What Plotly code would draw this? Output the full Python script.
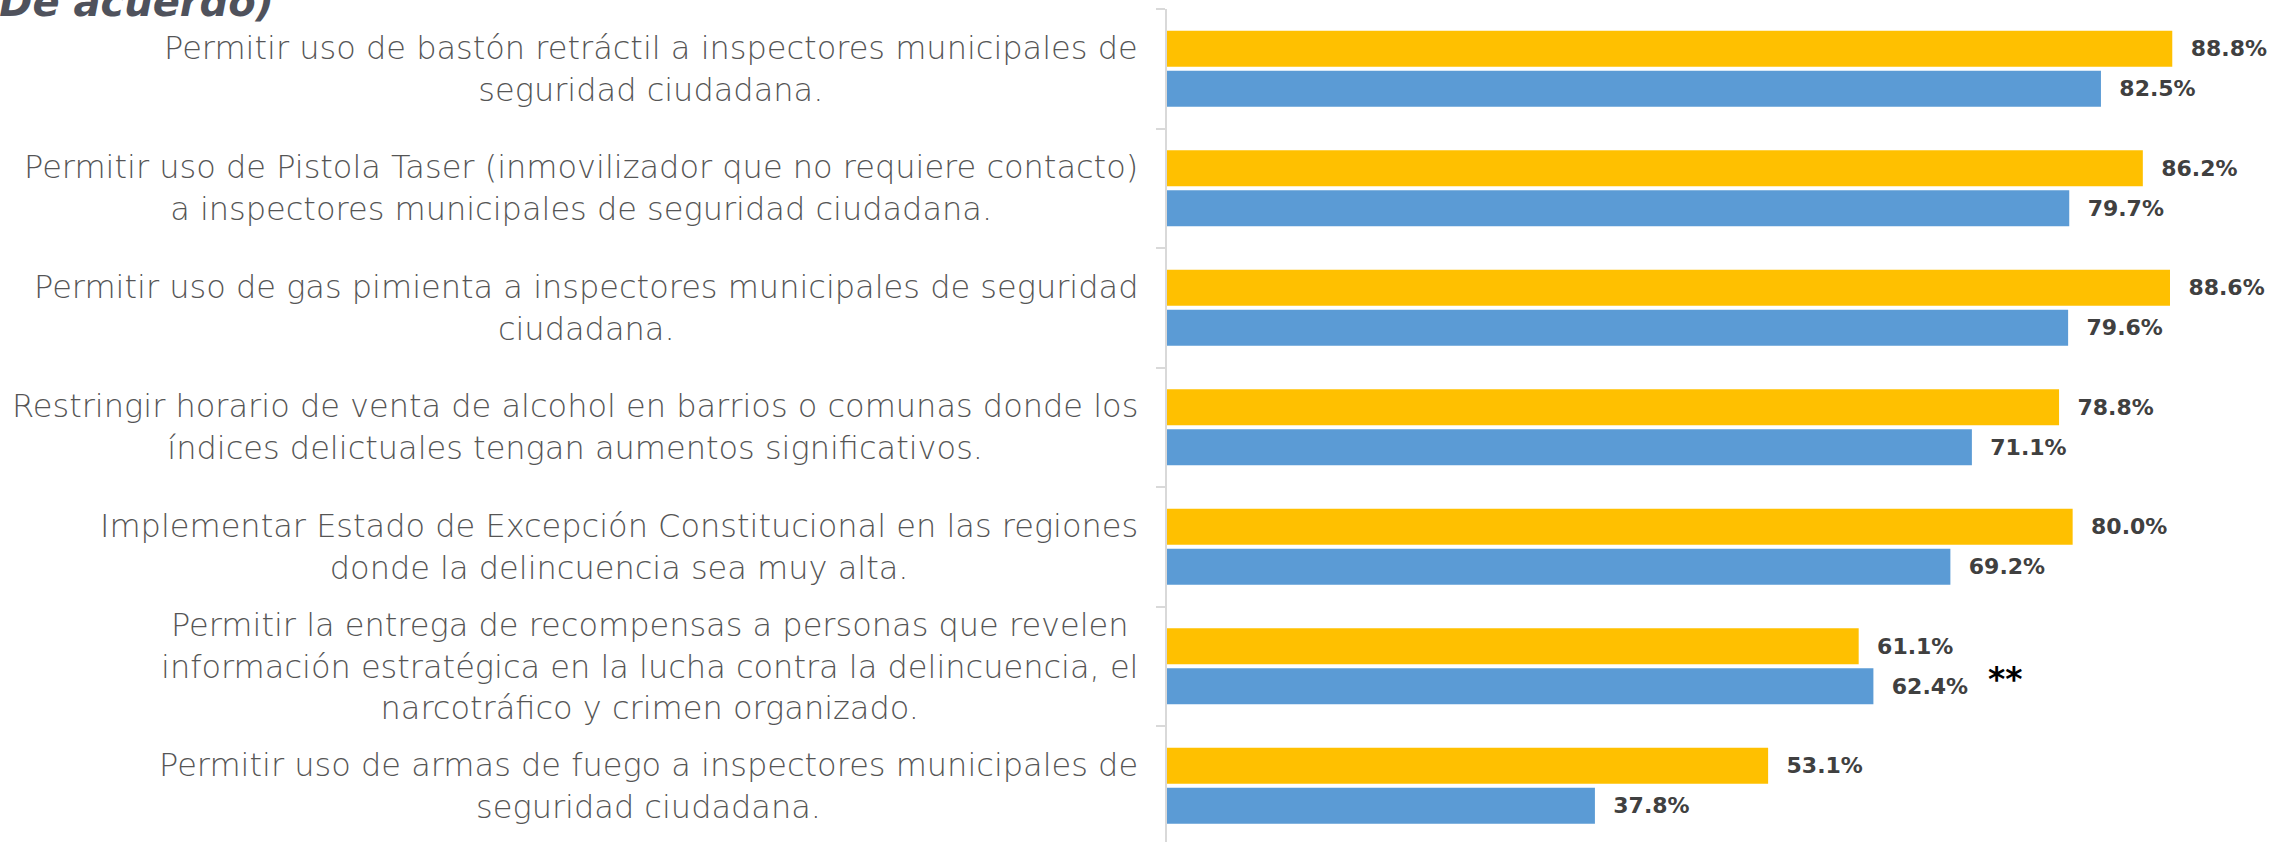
import plotly.graph_objects as go

categories = [
    "Permitir uso de bastón retráctil a inspectores municipales de<br>seguridad ciudadana.",
    "Permitir uso de Pistola Taser (inmovilizador que no requiere contacto)<br>a inspectores municipales de seguridad ciudadana.",
    "Permitir uso de gas pimienta a inspectores municipales de seguridad<br>ciudadana.",
    "Restringir horario de venta de alcohol en barrios o comunas donde los<br>índices delictuales tengan aumentos significativos.",
    "Implementar Estado de Excepción Constitucional en las regiones<br>donde la delincuencia sea muy alta.",
    "Permitir la entrega de recompensas a personas que revelen<br>información estratégica en la lucha contra la delincuencia, el<br>narcotráfico y crimen organizado.",
    "Permitir uso de armas de fuego a inspectores municipales de<br>seguridad ciudadana.",
]
serie_amarilla = [88.8, 86.2, 88.6, 78.8, 80.0, 61.1, 53.1]
serie_azul = [82.5, 79.7, 79.6, 71.1, 69.2, 62.4, 37.8]
series_names = ["Serie 1", "Serie 2"]
title_text = "(De acuerdo)"
note_category = categories[5]
note_text = "**"
note_x = 74.1

W, H = 2290, 842
ML = 1167

fig = go.Figure()
label_font = dict(family="DejaVu Sans", size=22, color="#404040", weight=700)
for name, vals, col in [(series_names[0], serie_amarilla, "#FFC000"),
                        (series_names[1], serie_azul, "#5B9BD5")]:
    fig.add_trace(go.Bar(
        y=categories, x=vals, name=name, orientation="h",
        marker=dict(color=col, line=dict(width=0)),
        text=[f"\u2002\u2009{v:.1f}%" for v in vals],
        textposition="outside", textfont=label_font,
        constraintext="none", cliponaxis=False,
        showlegend=False, hoverinfo="skip",
    ))

annotations = []
for c in categories:
    annotations.append(dict(
        xref="paper", x=0, yref="y", y=c, text=c, showarrow=False,
        xanchor="right", yanchor="middle", align="center", xshift=-27,
        font=dict(family="DejaVu Sans", size=32, color="#555555", weight=300),
    ))
annotations.append(dict(
    xref="x", x=note_x, yref="y", y=note_category, text=note_text,
    showarrow=False, xanchor="center", yanchor="middle", yshift=-13,
    font=dict(family="DejaVu Sans", size=33, color="#000000", weight=700),
))
annotations.append(dict(
    xref="paper", x=0, yref="paper", y=1, text=title_text, showarrow=False,
    xanchor="left", yanchor="middle", xshift=-ML - 21, yshift=7,
    font=dict(family="DejaVu Sans", size=40, color="#4F525C", weight=700, style="italic"),
))

fig.update_layout(
    width=W, height=H,
    margin=dict(l=ML, r=0, t=9, b=0, pad=0),
    paper_bgcolor="white", plot_bgcolor="white",
    barmode="group", bargap=0.33, bargroupgap=0.1,
    annotations=annotations,
    xaxis=dict(range=[0, 99.2], visible=False, showgrid=False, zeroline=False),
    yaxis=dict(
        range=[6.47, -0.5], autorange=False, showticklabels=False, showgrid=False,
        showline=True, linecolor="#D9D9D9", linewidth=2,
        ticks="outside", tickson="boundaries", ticklen=9,
        tickcolor="#D9D9D9", tickwidth=2, zeroline=False,
    ),
)

fig.write_html("out.html", config={"displayModeBar": False},
               post_script="document.body.style.margin='0';")
